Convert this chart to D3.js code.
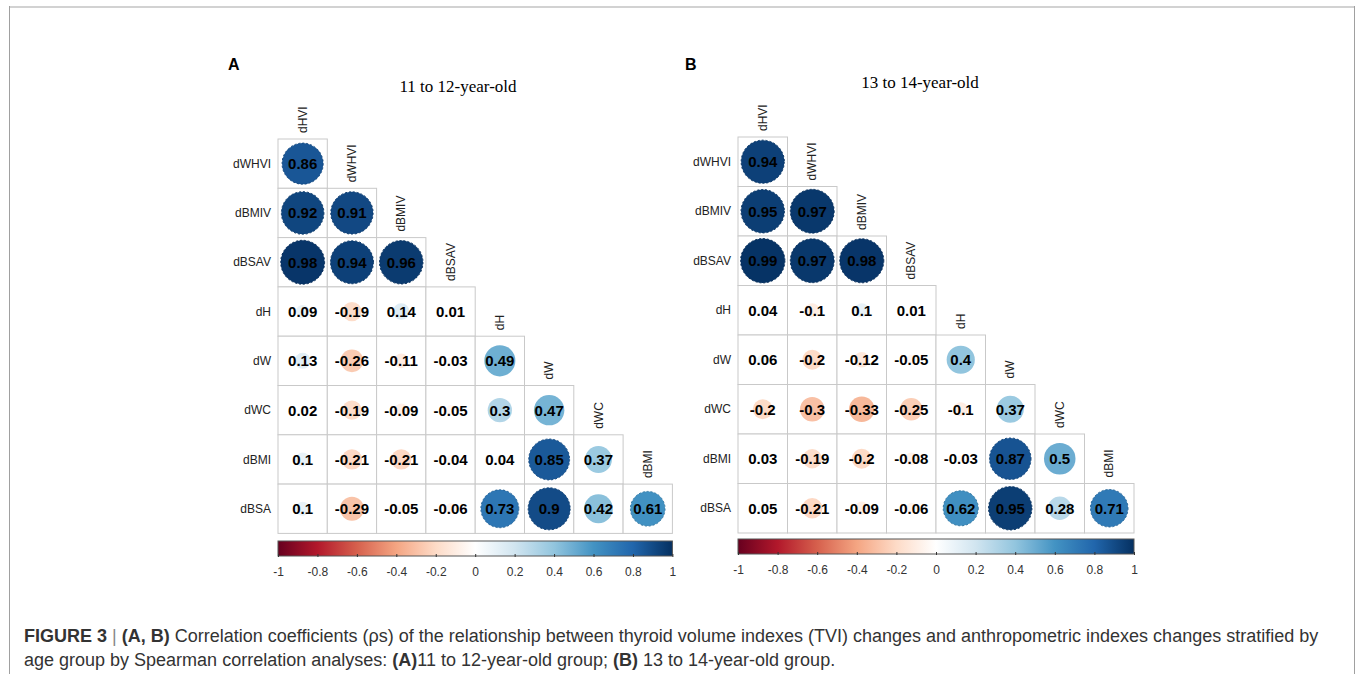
<!DOCTYPE html>
<html>
<head>
	<meta charset="utf-8">
	<title>Figure 3</title>
	<script src="https://cdn.jsdelivr.net/npm/d3@7/dist/d3.min.js"></script>
	<style>
		body { margin: 0; background: #fff; }
		text { font-family: "Liberation Sans", Arial, sans-serif; }
	</style>
</head>
<body>
<script type="text/javascript">
	var svgWidth = 1357,
	    svgHeight = 674;

	// variable names (rows skip the first, columns skip the last)
	var vars = ["dHVI", "dWHVI", "dBMIV", "dBSAV", "dH", "dW", "dWC", "dBMI", "dBSA"];
	var rowVars = vars.slice(1);
	var colVars = vars.slice(0, -1);

	// lower triangle, one array per row
	var valuesA = [
		[0.86],
		[0.92, 0.91],
		[0.98, 0.94, 0.96],
		[0.09, -0.19, 0.14, 0.01],
		[0.13, -0.26, -0.11, -0.03, 0.49],
		[0.02, -0.19, -0.09, -0.05, 0.3, 0.47],
		[0.1, -0.21, -0.21, -0.04, 0.04, 0.85, 0.37],
		[0.1, -0.29, -0.05, -0.06, 0.73, 0.9, 0.42, 0.61]
	];
	var valuesB = [
		[0.94],
		[0.95, 0.97],
		[0.99, 0.97, 0.98],
		[0.04, -0.1, 0.1, 0.01],
		[0.06, -0.2, -0.12, -0.05, 0.4],
		[-0.2, -0.3, -0.33, -0.25, -0.1, 0.37],
		[0.03, -0.19, -0.2, -0.08, -0.03, 0.87, 0.5],
		[0.05, -0.21, -0.09, -0.06, 0.62, 0.95, 0.28, 0.71]
	];

	var legendTicks = [-1, -0.8, -0.6, -0.4, -0.2, 0, 0.2, 0.4, 0.6, 0.8, 1];
	var legendLabels = ["-1", "-0.8", "-0.6", "-0.4", "-0.2", "0", "0.2", "0.4", "0.6", "0.8", "1"];

	// RdBu palette as used by corrplot
	var palette = ["#67001F", "#B2182B", "#D6604D", "#F4A582", "#FDDBC7", "#FFFFFF",
	               "#D1E5F0", "#92C5DE", "#4393C3", "#2166AC", "#053061"];
	var color = d3.scaleLinear()
		.domain(legendTicks)
		.range(palette)
		.interpolate(d3.interpolateRgb);

	var svg = d3.select("body")
		.append("svg")
		.attr("width", svgWidth)
		.attr("height", svgHeight);

	// frame of the figure page
	svg.append("line").attr("x1", 9).attr("x2", 1355).attr("y1", 7).attr("y2", 7)
		.attr("stroke", "#d2d2d2").attr("stroke-width", 2);
	svg.append("line").attr("x1", 9.5).attr("x2", 9.5).attr("y1", 6).attr("y2", svgHeight)
		.attr("stroke", "#a0a0a0");
	svg.append("line").attr("x1", 1354.5).attr("x2", 1354.5).attr("y1", 6).attr("y2", svgHeight)
		.attr("stroke", "#a0a0a0");

	var defs = svg.append("defs");
	var grad = defs.append("linearGradient").attr("id", "rdbu");
	d3.range(0, 1.0001, 0.05).forEach(function(t) {
		grad.append("stop")
			.attr("offset", (t * 100) + "%")
			.attr("stop-color", color(-1 + 2 * t));
	});

	function drawPanel(p) {
		var g = svg.append("g");
		var w = p.cell * colVars.length,
		    h = p.cell * rowVars.length;

		var x = d3.scaleBand().domain(colVars).range([p.x0, p.x0 + w]);
		var y = d3.scaleBand().domain(rowVars).range([p.y0, p.y0 + h]);
		var rScale = d3.scaleSqrt().domain([0, 1]).range([0, 0.45 * x.bandwidth()]);

		g.append("text")
			.attr("x", p.labelX).attr("y", 70)
			.attr("font-size", 16).attr("font-weight", "bold")
			.text(p.label);

		g.append("text")
			.attr("x", p.titleX).attr("y", p.titleY)
			.attr("text-anchor", "middle")
			.attr("font-size", 17)
			.style("font-family", "'Liberation Serif', 'Times New Roman', serif")
			.text(p.title);

		var cells = [];
		p.values.forEach(function(row, i) {
			row.forEach(function(v, j) {
				cells.push({ row: rowVars[i], col: colVars[j], v: v });
			});
		});

		g.selectAll("rect.cell")
			.data(cells)
			.enter().append("rect")
			.attr("class", "cell")
			.attr("x", function(d) { return x(d.col); })
			.attr("y", function(d) { return y(d.row); })
			.attr("width", x.bandwidth())
			.attr("height", y.bandwidth())
			.attr("fill", "#fff")
			.attr("stroke", "#c9c9c9")
			.attr("stroke-width", 1);

		g.selectAll("circle")
			.data(cells)
			.enter().append("circle")
			.attr("cx", function(d) { return x(d.col) + x.bandwidth() / 2; })
			.attr("cy", function(d) { return y(d.row) + y.bandwidth() / 2; })
			.attr("r", function(d) { return rScale(Math.abs(d.v)); })
			.attr("fill", function(d) { return color(d.v); })
			.attr("stroke", function(d) { return d3.color(color(d.v)).darker(0.5); })
			.attr("stroke-width", function(d) { return Math.abs(d.v) > 0.5 ? 1 : 0; })
			.attr("stroke-dasharray", "2,2");

		g.selectAll("text.coef")
			.data(cells)
			.enter().append("text")
			.attr("class", "coef")
			.attr("x", function(d) { return x(d.col) + x.bandwidth() / 2; })
			.attr("y", function(d) { return y(d.row) + y.bandwidth() / 2; })
			.attr("dy", "0.36em")
			.attr("text-anchor", "middle")
			.attr("font-size", 15)
			.attr("font-weight", "bold")
			.attr("fill", "#000")
			.text(function(d) { return String(d.v); });

		// row labels
		g.selectAll("text.rowlab")
			.data(rowVars)
			.enter().append("text")
			.attr("class", "rowlab")
			.attr("x", p.x0 - 7)
			.attr("y", function(d) { return y(d) + y.bandwidth() / 2; })
			.attr("dy", "0.35em")
			.attr("text-anchor", "end")
			.attr("font-size", 12)
			.attr("fill", "#222")
			.text(function(d) { return d; });

		// column labels, placed above the diagonal cell
		g.selectAll("text.collab")
			.data(colVars)
			.enter().append("text")
			.attr("class", "collab")
			.attr("transform", function(d, j) {
				return "translate(" + (x(d) + x.bandwidth() / 2) + "," + (y(rowVars[j]) - 6) + ") rotate(-90)";
			})
			.attr("dy", "0.35em")
			.attr("font-size", 12)
			.attr("fill", "#222")
			.text(function(d) { return d; });

		// colour legend
		var lx = d3.scaleLinear().domain([-1, 1]).range([p.x0, p.x0 + w]);
		g.append("rect")
			.attr("x", p.x0).attr("y", p.barY)
			.attr("width", w).attr("height", 15)
			.attr("fill", "url(#rdbu)")
			.attr("stroke", "#555").attr("stroke-width", 1);

		var axis = d3.axisBottom(lx)
			.tickValues(legendTicks)
			.tickSize(3)
			.tickFormat(function(d, i) { return legendLabels[i]; });

		var ax = g.append("g")
			.attr("transform", "translate(0," + (p.barY + 13) + ")")
			.call(axis);
		ax.select(".domain").remove();
		ax.selectAll(".tick line").attr("stroke", "#333");
		ax.selectAll(".tick text")
			.attr("y", 13)
			.attr("font-size", 12)
			.attr("fill", "#333")
			.style("font-family", "'Liberation Sans', Arial, sans-serif");
	}

	drawPanel({
		label: "A", labelX: 228, title: "11 to 12-year-old", titleX: 458, titleY: 92,
		x0: 278, y0: 139, cell: 49.3, barY: 541, values: valuesA
	});
	drawPanel({
		label: "B", labelX: 685, title: "13 to 14-year-old", titleX: 920, titleY: 88,
		x0: 738, y0: 137, cell: 49.5, barY: 539, values: valuesB
	});

	// caption
	var cap = svg.append("g").attr("font-size", 18).attr("fill", "#333");
	var l1 = cap.append("text").attr("x", 24).attr("y", 642);
	l1.append("tspan").attr("font-weight", "bold").text("FIGURE 3");
	l1.append("tspan").attr("fill", "#888").text(" | ");
	l1.append("tspan").attr("font-weight", "bold").text("(A, B)");
	l1.append("tspan").text(" Correlation coefficients (ρs) of the relationship between thyroid volume indexes (TVI) changes and anthropometric indexes changes stratified by");
	var l2 = cap.append("text").attr("x", 24).attr("y", 666);
	l2.append("tspan").text("age group by Spearman correlation analyses: ");
	l2.append("tspan").attr("font-weight", "bold").text("(A)");
	l2.append("tspan").text("11 to 12-year-old group; ");
	l2.append("tspan").attr("font-weight", "bold").text("(B)");
	l2.append("tspan").text(" 13 to 14-year-old group.");
</script>
</body>
</html>
